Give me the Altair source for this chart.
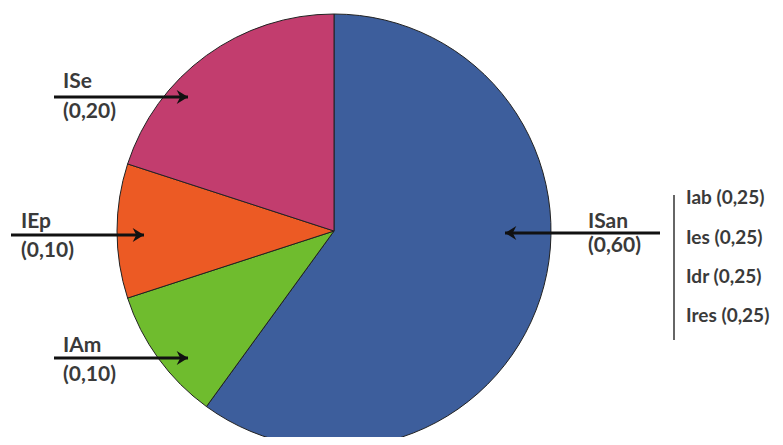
import altair as alt
import pandas as pd

# Data
names = ["ISan", "IAm", "IEp", "ISe"]
values = [0.60, 0.10, 0.10, 0.20]
value_labels = ["(0,60)", "(0,10)", "(0,10)", "(0,20)"]
colors = ["#3D5E9C", "#6FBC2E", "#EC5A24", "#C23D6E"]
side_names = ["Iab (0,25)", "Ies (0,25)", "Idr (0,25)", "Ires (0,25)"]

# Layout (pixel positions in chart coordinates)
W, H = 767, 429
cx, cy, R = 326, 223, 217
label_pos = {  # name: (text x, name y, value y, arrow x1, arrow x2, arrow y, dir)
    "ISe": (55, 74, 104, 46, 180, 89, 1),
    "IEp": (13, 214, 243, 3, 136, 227, 1),
    "IAm": (55, 338, 367, 46, 180, 350, 1),
    "ISan": (580, 214, 238, 652, 497, 225, -1),
}
side_x = 678
side_y = [190, 230, 269, 308]
bar_x, bar_y1, bar_y2 = 666, 187, 332

pie_df = pd.DataFrame({"name": names, "value": values, "ord": list(range(len(names)))})

pie = alt.Chart(pie_df).mark_arc(stroke="#222222", strokeWidth=1, radius=R).encode(
    theta=alt.Theta("value:Q", stack=True),
    color=alt.Color("name:N", scale=alt.Scale(domain=names, range=colors), legend=None),
    order=alt.Order("ord:Q"),
    x=alt.value(cx),
    y=alt.value(cy),
)

rows = []
for n, vl in zip(names, value_labels):
    tx, ny, vy, x1, x2, ay, d = label_pos[n]
    rows.append({"name": n, "vlabel": vl, "tx": tx, "ny": ny, "vy": vy,
                 "x1": x1, "x2": x2, "ay": ay, "dir": "r" if d > 0 else "l"})
ann = pd.DataFrame(rows)

xs = alt.Scale(domain=[0, W], range=[0, W])
ys = alt.Scale(domain=[0, H], range=[0, H])

font = "Lato"
tcol = "#3a3a3a"
fs = 21

name_text = alt.Chart(ann).mark_text(align="left", baseline="middle", font=font,
                                     fontSize=fs, color=tcol, fontWeight="bold").encode(
    x=alt.X("tx:Q", scale=xs, axis=None), y=alt.Y("ny:Q", scale=ys, axis=None), text="name:N")
val_text = alt.Chart(ann).mark_text(align="left", baseline="middle", font=font,
                                    fontSize=fs, color=tcol, fontWeight="bold").encode(
    x=alt.X("tx:Q", scale=xs, axis=None), y=alt.Y("vy:Q", scale=ys, axis=None), text="vlabel:N")

shafts = alt.Chart(ann).mark_rule(color="#111111", strokeWidth=3).encode(
    x=alt.X("x1:Q", scale=xs, axis=None), x2="x2:Q", y=alt.Y("ay:Q", scale=ys, axis=None))

head_r = alt.Chart(ann[ann["dir"] == "r"]).mark_point(
    shape="M0,0L-1.6,-1L-1.1,0L-1.6,1Z", size=200, filled=True, color="#111111", opacity=1
).encode(x=alt.X("x2:Q", scale=xs, axis=None), y=alt.Y("ay:Q", scale=ys, axis=None))
head_l = alt.Chart(ann[ann["dir"] == "l"]).mark_point(
    shape="M0,0L1.6,-1L1.1,0L1.6,1Z", size=200, filled=True, color="#111111", opacity=1
).encode(x=alt.X("x2:Q", scale=xs, axis=None), y=alt.Y("ay:Q", scale=ys, axis=None))

side_df = pd.DataFrame({"label": side_names, "y": side_y, "x": [side_x] * len(side_names)})
side_text = alt.Chart(side_df).mark_text(align="left", baseline="middle", font=font,
                                         fontSize=19, color=tcol, fontWeight="bold").encode(
    x=alt.X("x:Q", scale=xs, axis=None), y=alt.Y("y:Q", scale=ys, axis=None), text="label:N")

bar_df = pd.DataFrame({"x": [bar_x], "y1": [bar_y1], "y2": [bar_y2]})
bar = alt.Chart(bar_df).mark_rule(color="#333333", strokeWidth=1.5).encode(
    x=alt.X("x:Q", scale=xs, axis=None), y=alt.Y("y1:Q", scale=ys, axis=None), y2="y2:Q")

chart = alt.layer(pie, shafts, head_r, head_l, name_text, val_text, side_text, bar).properties(
    width=W, height=H, padding=0, autosize=alt.AutoSizeParams(type="none")
).configure_view(stroke=None)

chart.save("out.html", embed_options={"renderer": "svg", "actions": False})
